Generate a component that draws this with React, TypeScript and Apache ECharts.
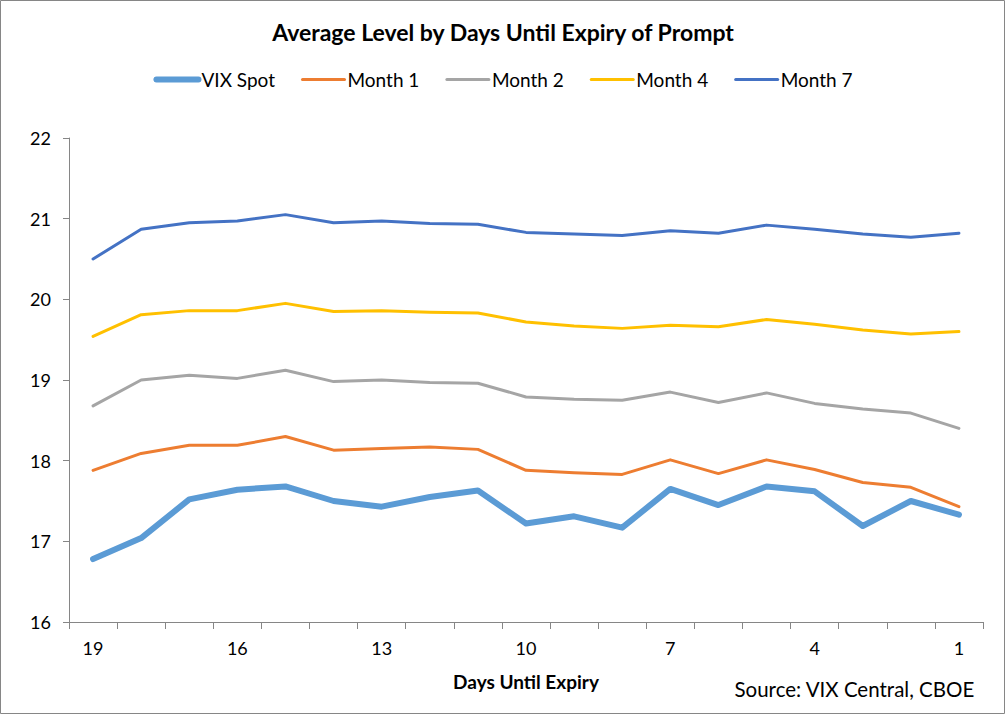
import React, { useEffect, useRef } from "react";
import * as echarts from "echarts";

const categories = ["19","18","17","16","15","14","13","12","11","10","9","8","7","6","5","4","3","2","1"];
const vixSpot = [16.78,17.04,17.52,17.64,17.68,17.50,17.43,17.55,17.63,17.22,17.31,17.17,17.65,17.45,17.68,17.62,17.19,17.50,17.33];
const month1 = [17.88,18.09,18.19,18.19,18.30,18.13,18.15,18.17,18.14,17.88,17.85,17.83,18.01,17.84,18.01,17.89,17.73,17.67,17.43];
const month2 = [18.68,19.00,19.06,19.02,19.12,18.98,19.00,18.97,18.96,18.79,18.76,18.75,18.85,18.72,18.84,18.71,18.64,18.59,18.40];
const month4 = [19.54,19.81,19.86,19.86,19.95,19.85,19.86,19.84,19.83,19.72,19.67,19.64,19.68,19.66,19.75,19.69,19.62,19.57,19.60];
const month7 = [20.50,20.87,20.95,20.97,21.05,20.95,20.97,20.94,20.93,20.83,20.81,20.79,20.85,20.82,20.92,20.87,20.81,20.77,20.82];

const FONT = "Lato";

export default function App() {
  const ref = useRef<HTMLDivElement>(null);
  useEffect(() => {
    document.body.style.margin = "0";
    const chart = echarts.init(ref.current!, undefined, { renderer: "svg" });
    const mk = (name: string, data: number[], color: string, width: number) => ({
      name,
      type: "line",
      data,
      symbol: "none",
      showSymbol: false,
      lineStyle: { color, width, cap: "round", join: "round" },
      itemStyle: { color },
    });
    chart.setOption({
      animation: false,
      textStyle: { fontFamily: FONT },
      title: {
        text: "Average Level by Days Until Expiry of Prompt",
        left: "center",
        top: 15,
        textStyle: { fontFamily: FONT, fontSize: 23, fontWeight: "bold", color: "#000" },
      },
      legend: {
        top: 65,
        left: "center",
        itemWidth: 42,
        itemHeight: 10,
        itemGap: 26,
        itemStyle: { opacity: 0, borderWidth: 0 },
        lineStyle: { width: 3 },
        textStyle: { fontFamily: FONT, fontSize: 19, color: "#000", padding: [0, 0, 0, -2] },
        data: [
          { name: "VIX Spot", lineStyle: { width: 6 } },
          { name: "Month 1" },
          { name: "Month 2" },
          { name: "Month 4" },
          { name: "Month 7" },
        ],
      },
      grid: { left: 69, right: 23, top: 138, bottom: 93, containLabel: false },
      xAxis: {
        type: "category",
        data: categories,
        boundaryGap: true,
        name: "Days Until Expiry",
        nameLocation: "middle",
        nameGap: 50,
        nameTextStyle: { fontFamily: FONT, fontSize: 19, fontWeight: "bold", color: "#000" },
        axisLine: { lineStyle: { color: "#868686", width: 1 } },
        axisTick: { show: true, length: 7, alignWithLabel: false, interval: 0, lineStyle: { color: "#868686" } },
        axisLabel: {
          interval: 2,
          margin: 17,
          fontFamily: FONT,
          fontSize: 18,
          color: "#000",
        },
        splitLine: { show: false },
      },
      yAxis: {
        type: "value",
        min: 16,
        max: 22,
        interval: 1,
        axisLine: { show: true, lineStyle: { color: "#868686", width: 1 } },
        axisTick: { show: true, length: 6, lineStyle: { color: "#868686" } },
        axisLabel: { margin: 18, fontFamily: FONT, fontSize: 18, color: "#000" },
        splitLine: { show: false },
      },
      graphic: [
        {
          type: "rect",
          shape: { x: 0.5, y: 0.5, width: 1004, height: 713 },
          style: { fill: "none", stroke: "#868686", lineWidth: 1 },
          silent: true,
        },
        {
          type: "text",
          right: 31,
          top: 678,
          style: { text: "Source: VIX Central, CBOE", fontFamily: FONT, fontSize: 20.5, fill: "#000" },
        },
      ],
      series: [
        mk("VIX Spot", vixSpot, "#5B9BD5", 6),
        mk("Month 1", month1, "#ED7D31", 3),
        mk("Month 2", month2, "#A5A5A5", 3),
        mk("Month 4", month4, "#FFC000", 3),
        mk("Month 7", month7, "#4472C4", 3),
      ],
    });
    return () => chart.dispose();
  }, []);
  return <div ref={ref} style={{ width: 1006, height: 715, background: "#fff" }} />;
}
